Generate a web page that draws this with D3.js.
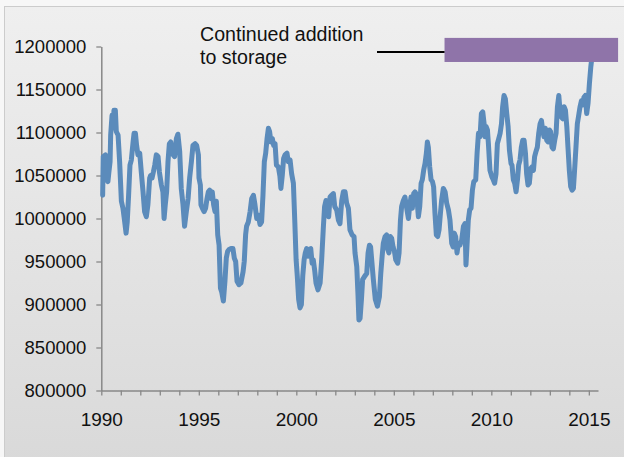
<!DOCTYPE html>
<html>
<head>
<meta charset="utf-8">
<script src="https://cdn.jsdelivr.net/npm/d3@7"></script>
<style>
  html, body { margin: 0; padding: 0; background: #ffffff; }
  svg { display: block; font-family: "Liberation Sans", Arial, sans-serif; }
</style>
</head>
<body>
<svg id="chart" width="624" height="457"></svg>
<script>
// ---- Data ----
const years = [
  1990.07,1990.10,1990.21,1990.28,1990.34,1990.39,1990.45,1990.48,1990.55,1990.60,1990.65,1990.72,1990.77,1990.86,1990.94,
  1991.03,1991.11,1991.20,1991.27,1991.33,1991.40,1991.47,1991.54,1991.63,1991.68,1991.75,1991.81,1991.88,1991.97,
  1992.05,1992.14,1992.22,1992.31,1992.39,1992.48,1992.53,1992.60,1992.67,1992.74,1992.82,1992.91,1992.98,
  1993.08,1993.16,1993.22,1993.28,1993.35,1993.42,1993.49,1993.56,1993.63,1993.69,1993.76,1993.85,1993.93,
  1994.02,1994.10,1994.19,1994.27,1994.36,1994.45,1994.53,1994.62,1994.70,1994.81,1994.89,1994.98,
  1995.01,1995.08,1995.11,1995.18,1995.27,1995.35,1995.42,1995.49,1995.56,1995.63,1995.69,1995.76,1995.83,1995.90,1995.97,
  1996.04,1996.11,1996.17,1996.26,1996.34,1996.41,1996.48,1996.55,1996.65,1996.75,1996.82,1996.89,1996.96,
  1997.06,1997.16,1997.27,1997.33,1997.40,1997.45,1997.54,1997.63,1997.71,1997.80,1997.88,1997.97,
  1998.05,1998.14,1998.22,1998.29,1998.36,1998.43,1998.50,1998.57,1998.63,1998.70,1998.77,1998.84,1998.91,1998.98,
  1999.08,1999.16,1999.21,1999.28,1999.35,1999.42,1999.52,1999.59,1999.68,1999.76,1999.85,1999.92,1999.99,
  2000.05,2000.12,2000.19,2000.26,2000.33,2000.40,2000.46,2000.53,2000.60,2000.67,2000.74,2000.81,2000.87,2000.94,
  2001.01,2001.11,2001.22,2001.30,2001.39,2001.45,2001.52,2001.59,2001.66,2001.73,2001.81,2001.90,2001.97,
  2002.07,2002.16,2002.24,2002.33,2002.41,2002.50,2002.58,2002.67,2002.75,2002.86,2002.96,
  2003.01,2003.10,2003.16,2003.21,2003.27,2003.34,2003.40,2003.51,2003.61,2003.68,2003.75,2003.81,2003.88,2003.95,
  2004.05,2004.16,2004.26,2004.33,2004.40,2004.46,2004.55,2004.63,2004.69,2004.75,2004.82,2004.89,2004.96,
  2005.03,2005.10,2005.20,2005.27,2005.34,2005.40,2005.49,2005.57,2005.66,2005.75,2005.81,2005.88,2005.95,
  2006.02,2006.09,2006.17,2006.26,2006.33,2006.40,2006.46,2006.53,2006.60,2006.67,2006.72,2006.77,2006.84,2006.91,2006.98,
  2007.04,2007.11,2007.18,2007.25,2007.32,2007.39,2007.45,2007.54,2007.63,2007.71,2007.80,2007.88,2007.97,
  2008.04,2008.10,2008.17,2008.24,2008.31,2008.39,2008.48,2008.57,2008.65,2008.70,2008.75,2008.82,2008.89,2008.96,
  2009.03,2009.10,2009.20,2009.27,2009.34,2009.42,2009.49,2009.56,2009.63,2009.68,2009.73,2009.80,2009.85,2009.93,
  2010.02,2010.10,2010.17,2010.24,2010.31,2010.38,2010.45,2010.52,2010.58,2010.65,2010.72,2010.79,2010.86,2010.93,
  2011.01,2011.06,2011.13,2011.20,2011.27,2011.34,2011.40,2011.47,2011.54,2011.61,2011.68,2011.75,2011.81,2011.88,2011.95,
  2012.02,2012.09,2012.16,2012.22,2012.29,2012.36,2012.43,2012.50,2012.57,2012.63,2012.70,2012.77,2012.84,2012.91,2012.98,
  2013.04,2013.11,2013.18,2013.25,2013.32,2013.39,2013.46,2013.52,2013.59,2013.66,2013.73,2013.80,2013.87,2013.93,
  2014.00,2014.07,2014.14,2014.21,2014.28,2014.34,2014.41,2014.48,2014.55,2014.62,2014.69,2014.75,2014.82,2014.89,2014.96,
  2015.03,2015.10,2015.16,2015.23
];
const stocks = [
  1027000,1072000,1074000,1045000,1043000,1054000,1066000,1097000,1120000,1105000,1126000,1126000,1101000,1097000,1066000,
  1020000,1012000,996000,983000,996000,1027000,1062000,1068000,1089000,1099000,1099000,1085000,1074000,1076000,
  1054000,1031000,1008000,1002000,1016000,1047000,1050000,1047000,1054000,1062000,1074000,1072000,1054000,
  1039000,1031000,1000000,1016000,1031000,1066000,1087000,1089000,1078000,1074000,1072000,1093000,1098000,
  1078000,1035000,1016000,991000,1008000,1023000,1047000,1066000,1085000,1087000,1085000,1074000,
  1047000,1039000,1016000,1012000,1008000,1012000,1023000,1031000,1033000,1023000,1031000,1016000,1008000,1020000,981000,
  969000,919000,915000,904000,927000,954000,962000,964000,965000,965000,954000,950000,927000,
  923000,925000,938000,950000,981000,991000,996000,1008000,1023000,1027000,1016000,1000000,
  1004000,993000,996000,1027000,1066000,1076000,1093000,1105000,1101000,1089000,1093000,1085000,1087000,1062000,
  1060000,1049000,1035000,1050000,1070000,1074000,1076000,1066000,1068000,1052000,1041000,998000,952000,
  933000,906000,896000,900000,933000,952000,960000,965000,956000,964000,965000,948000,952000,940000,
  925000,917000,925000,952000,991000,1014000,1021000,1010000,1002000,1025000,1027000,1029000,1014000,
  1010000,998000,994000,1021000,1031000,1031000,1018000,1012000,987000,981000,979000,
  960000,944000,913000,882000,884000,906000,929000,933000,936000,960000,969000,967000,948000,929000,
  906000,898000,909000,936000,956000,971000,979000,981000,964000,960000,979000,977000,967000,
  962000,952000,948000,960000,998000,1014000,1021000,1025000,1012000,1000000,1014000,1025000,1012000,
  1029000,1031000,1027000,1002000,1014000,1041000,1045000,1056000,1064000,1076000,1089000,1083000,1060000,1045000,1043000,
  1037000,1006000,981000,979000,987000,1006000,1021000,1035000,1031000,1018000,1010000,998000,971000,
  967000,983000,979000,960000,971000,969000,975000,991000,994000,946000,967000,998000,1010000,1012000,
  1033000,1043000,1045000,1076000,1099000,1095000,1122000,1124000,1110000,1095000,1107000,1103000,1087000,1056000,
  1049000,1045000,1041000,1052000,1087000,1093000,1099000,1110000,1130000,1143000,1139000,1122000,1107000,1079000,
  1064000,1062000,1045000,1041000,1031000,1045000,1062000,1068000,1083000,1091000,1091000,1076000,1052000,1039000,1041000,
  1058000,1060000,1056000,1072000,1078000,1083000,1099000,1110000,1114000,1103000,1095000,1105000,1091000,1089000,1103000,
  1101000,1083000,1081000,1091000,1099000,1130000,1143000,1126000,1118000,1116000,1130000,1126000,1107000,1083000,
  1056000,1037000,1033000,1035000,1060000,1083000,1110000,1120000,1130000,1137000,1132000,1141000,1143000,1122000,1134000,
  1157000,1176000,1188000,1199000
];
const yTicks = [800000, 850000, 900000, 950000, 1000000, 1050000, 1100000, 1150000, 1200000];
const xTicks = d3.range(1990, 2016);
const xLabelYears = [1990, 1995, 2000, 2005, 2010, 2015];
const annotationLines = ["Continued addition", "to storage"];
const xDomain = [1990, 2015.47];
const yDomain = [800000, 1200000];
const highlightBand = { x0: 2007.6, x1: 2016.5, v0: 1182000, v1: 1210000 };

(function draw() {
  const svg = d3.select("#chart");
  const W = 624, H = 457;
  const pL = 101.3, pR = 598, pT = 46.5, pB = 390.5;

  const defs = svg.append("defs");
  const grad = defs.append("linearGradient").attr("id", "bg").attr("x1", 0).attr("y1", 0).attr("x2", 0).attr("y2", 1);
  grad.append("stop").attr("offset", "0%").attr("stop-color", "#efefef");
  grad.append("stop").attr("offset", "100%").attr("stop-color", "#d8d8d8");

  svg.append("rect").attr("x", 0).attr("y", 0).attr("width", W).attr("height", H).attr("fill", "#f7f7f7");
  svg.append("rect").attr("x", 4.5).attr("y", 6.5).attr("width", 660).attr("height", 480)
    .attr("fill", "url(#bg)").attr("stroke", "#cccccc").attr("stroke-width", 1);

  const x = d3.scaleLinear().domain(xDomain).range([pL, pR]);
  const y = d3.scaleLinear().domain(yDomain).range([pB, pT]);

  const yAxis = svg.append("g").attr("transform", `translate(${pL},0)`)
    .call(d3.axisLeft(y).tickValues(yTicks).tickSize(5).tickSizeOuter(0).tickPadding(10).tickFormat(d3.format("d")));
  yAxis.select(".domain").attr("stroke", "#888888").attr("stroke-width", 1.5);
  yAxis.selectAll(".tick line").attr("stroke", "#888888").attr("stroke-width", 1.3);
  yAxis.selectAll(".tick text").attr("fill", "#111").style("font-size", "18.5px")
    .style("font-family", "'Liberation Sans', Arial, sans-serif");

  const xAxis = svg.append("g").attr("transform", `translate(0,${pB})`)
    .call(d3.axisBottom(x).tickValues(xTicks).tickSize(5).tickSizeOuter(0)
      .tickFormat(d => xLabelYears.includes(d) ? String(d) : ""));
  xAxis.select(".domain").attr("stroke", "#888888").attr("stroke-width", 1.5);
  xAxis.selectAll(".tick line").attr("stroke", "#888888").attr("stroke-width", 1.3);
  xAxis.selectAll(".tick text").attr("fill", "#111").attr("y", 35.5).attr("dy", 0)
    .style("font-size", "19px").style("font-family", "'Liberation Sans', Arial, sans-serif");

  const data = years.map((yr, i) => ({ t: yr, v: stocks[i] }));
  svg.append("path").datum(data)
    .attr("fill", "none")
    .attr("stroke", "#5b8bbb")
    .attr("stroke-width", 5)
    .attr("stroke-linejoin", "round")
    .attr("stroke-linecap", "round")
    .attr("d", d3.line().x(d => x(d.t)).y(d => y(d.v)));

  svg.append("rect")
    .attr("x", x(highlightBand.x0))
    .attr("y", y(highlightBand.v1))
    .attr("width", x(highlightBand.x1) - x(highlightBand.x0))
    .attr("height", y(highlightBand.v0) - y(highlightBand.v1))
    .attr("fill", "#8f74a9");

  const ann = svg.append("text").attr("x", 200).attr("y", 41)
    .style("font-size", "19.6px").attr("fill", "#111");
  annotationLines.forEach((s, i) => ann.append("tspan").attr("x", 200).attr("dy", i === 0 ? 0 : 22.5).text(s));
  svg.append("line").attr("x1", 377).attr("x2", x(highlightBand.x0)).attr("y1", 52).attr("y2", 52)
    .attr("stroke", "#000").attr("stroke-width", 1.8);
})();
</script>
</body>
</html>
